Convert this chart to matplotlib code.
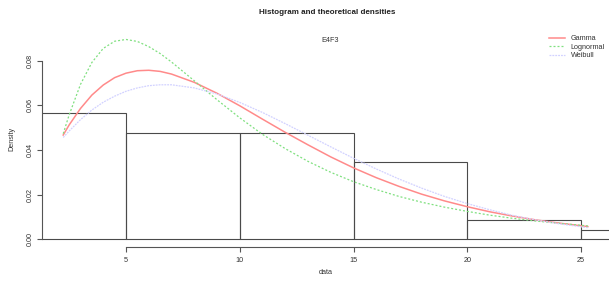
import matplotlib.pyplot as plt

plt.rcParams["font.family"] = ["Liberation Sans", "DejaVu Sans"]

# histogram (bins of width 5, density scale)
bin_edges = [0, 5, 10, 15, 20, 25, 30]
counts = [13, 11, 11, 8, 2, 1]
n_obs = 46

# fitted densities
x_grid = [2.24, 2.5, 3, 3.5, 4, 4.5, 5, 5.5, 6, 6.5, 7, 8, 9, 10, 11, 12, 13,
          14, 15, 16, 17, 18, 19, 20, 21, 22, 23, 24, 25.3]
gamma_d = [0.0467, 0.0512, 0.0586, 0.0646, 0.0691, 0.0724, 0.0744, 0.0755,
           0.0757, 0.0752, 0.0740, 0.0703, 0.0654, 0.0598, 0.0538, 0.0479,
           0.0423, 0.0369, 0.0320, 0.0276, 0.0237, 0.0202, 0.0172, 0.0146,
           0.0123, 0.0104, 0.0087, 0.0073, 0.0057]
lnorm_d = [0.0473, 0.0557, 0.0694, 0.0792, 0.0855, 0.0887, 0.0895, 0.0886,
           0.0863, 0.0832, 0.0794, 0.0710, 0.0625, 0.0544, 0.0470, 0.0406,
           0.0349, 0.0300, 0.0258, 0.0223, 0.0192, 0.0166, 0.0144, 0.0125,
           0.0108, 0.0094, 0.0082, 0.0072, 0.0060]
weib_d = [0.0456, 0.0485, 0.0536, 0.0579, 0.0614, 0.0641, 0.0663, 0.0678,
          0.0688, 0.0692, 0.0692, 0.0678, 0.0651, 0.0613, 0.0568, 0.0518,
          0.0466, 0.0414, 0.0363, 0.0315, 0.0270, 0.0229, 0.0192, 0.0160,
          0.0132, 0.0107, 0.0087, 0.0070, 0.0052]

x_ticks = [5, 10, 15, 20, 25]
y_ticks = [0.00, 0.02, 0.04, 0.06, 0.08]

fig = plt.figure(figsize=(6.14, 2.87), dpi=100)
ax = fig.add_axes([0.0689, 0.1383, 0.923, 0.753])

widths = [bin_edges[i + 1] - bin_edges[i] for i in range(len(counts))]
heights = [c / (n_obs * w) for c, w in zip(counts, widths)]
ax.bar(bin_edges[:-1], heights, width=widths, align="edge",
       facecolor="none", edgecolor="#4a4a4a", linewidth=0.8)

ax.plot(x_grid, gamma_d, color="#ff8a8a", lw=1.1, label="Gamma")
ax.plot(x_grid, lnorm_d, color="#80e080", lw=0.9, linestyle=(0, (1.6, 1.6)),
        label="Lognormal")
ax.plot(x_grid, weib_d, color="#d2d2ff", lw=0.9, linestyle=(0, (1.5, 0.8)),
        label="Weibull")

ax.set_xlim(1.321, 26.23)
ax.set_ylim(-0.00358, 0.0932)

for side in ["top", "right"]:
    ax.spines[side].set_visible(False)
ax.spines["left"].set_bounds(0, 0.08)
ax.spines["bottom"].set_bounds(5, 25)
for side in ["left", "bottom"]:
    ax.spines[side].set_color("#555555")
    ax.spines[side].set_linewidth(0.8)

ax.set_xticks(x_ticks)
ax.set_xticklabels([str(t) for t in x_ticks])
ax.set_yticks(y_ticks)
ax.set_yticklabels(["%.2f" % t for t in y_ticks], rotation=90, va="center")
ax.tick_params(axis="both", direction="out", length=3.5, width=0.8,
               color="#555555", labelsize=5.2, labelcolor="#333333")
ax.tick_params(axis="x", pad=3.2)
ax.tick_params(axis="y", pad=2.6)

fig.text(327 / 614, 1 - 13 / 287, "Histogram and theoretical densities",
         ha="center", va="center", fontsize=5.8, fontweight="bold",
         color="#222222")
fig.text(330 / 614, 1 - 41 / 287, "E4F3", ha="center", va="center",
         fontsize=5.2, color="#333333")
fig.text(12 / 614, 1 - 139 / 287, "Density", rotation=90, ha="center",
         va="center", fontsize=5.2, color="#333333")
fig.text(326 / 614, 1 - 273 / 287, "data", ha="center", va="center",
         fontsize=5.2, color="#333333")

ax.legend(loc="upper left", bbox_to_anchor=(549 / 614, 1 - 35 / 287),
          bbox_transform=fig.transFigure, frameon=False, fontsize=5.2,
          handlelength=2.2, handletextpad=0.8, labelspacing=0.2,
          borderpad=0, borderaxespad=0, labelcolor="#333333")

fig.savefig("out.png", dpi=100)
